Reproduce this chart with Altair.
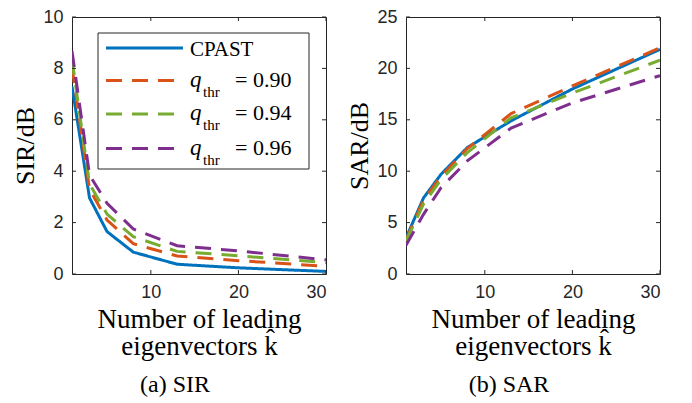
import altair as alt
import pandas as pd

k_vals = [1, 3, 5, 8, 13, 20, 30]
series_names = ["CPAST", "q90", "q94", "q96"]
legend_values = ["CPAST", "0.90", "0.94", "0.96"]
colors = ["#0072BD", "#D95319", "#77AC30", "#7E2F8E"]

sir_cpast = [7.3, 2.96, 1.65, 0.85, 0.38, 0.24, 0.1]
sir_q90 = [8.05, 3.3, 2.1, 1.18, 0.7, 0.52, 0.3]
sir_q94 = [8.35, 3.5, 2.33, 1.45, 0.88, 0.71, 0.44]
sir_q96 = [8.67, 3.85, 2.75, 1.75, 1.1, 0.9, 0.55]

sar_cpast = [3.5, 7.4, 9.7, 12.3, 14.9, 18.0, 21.85]
sar_q90 = [3.3, 7.2, 9.5, 12.2, 15.6, 18.3, 22.0]
sar_q94 = [3.2, 6.8, 9.2, 11.8, 15.2, 17.6, 20.8]
sar_q96 = [2.8, 5.8, 8.4, 11.0, 14.2, 16.65, 19.3]

sir_ticks = [0, 2, 4, 6, 8, 10]
sar_ticks = [0, 5, 10, 15, 20, 25]
x_ticks = [10, 20, 30]

W, H = 254, 257
AX = "#262626"
SERIF = "Liberation Serif"
SANS = "Liberation Sans"
TL = 4


def long_df(cols):
    rows = []
    for name, vals in zip(series_names, cols):
        for kk, v in zip(k_vals, vals):
            rows.append({"k": kk, "v": v, "series": name})
    return pd.DataFrame(rows)


def panel(cols, ymax, yticks, ytitle, caption, legend):
    df = long_df(cols)
    xs = alt.Scale(domain=[1, 30], nice=False, zero=False)
    ys = alt.Scale(domain=[0, ymax], nice=False, zero=False)
    xax = alt.Axis(values=x_ticks, title=["Number of leading", "eigenvectors k\u0302"],
                   ticks=False, domain=False, grid=False, labelPadding=9, titlePadding=5)
    yax = alt.Axis(values=yticks, title=ytitle, ticks=False, domain=False, grid=False,
                   labelPadding=9, titlePadding=4)
    lines = alt.Chart(df).mark_line(strokeWidth=3, strokeCap="butt", clip=True).encode(
        x=alt.X("k:Q", scale=xs, axis=xax),
        y=alt.Y("v:Q", scale=ys, axis=yax),
        color=alt.Color("series:N", scale=alt.Scale(domain=series_names, range=colors), legend=None),
        strokeDash=alt.StrokeDash("series:N", scale=alt.Scale(
            domain=series_names, range=[[1, 0], [16, 10], [16, 10], [16, 10]]), legend=None),
    )
    ytdf = pd.DataFrame({"t": yticks})
    xtdf = pd.DataFrame({"t": x_ticks})
    yl = alt.Chart(ytdf).mark_rule(color=AX, strokeWidth=1).encode(
        y=alt.Y("t:Q", scale=ys, axis=yax), x=alt.value(0), x2=alt.value(TL))
    yr = alt.Chart(ytdf).mark_rule(color=AX, strokeWidth=1).encode(
        y=alt.Y("t:Q", scale=ys, axis=yax), x=alt.value(W - TL), x2=alt.value(W))
    xb = alt.Chart(xtdf).mark_rule(color=AX, strokeWidth=1).encode(
        x=alt.X("t:Q", scale=xs, axis=xax), y=alt.value(H - TL), y2=alt.value(H))
    xt = alt.Chart(xtdf).mark_rule(color=AX, strokeWidth=1).encode(
        x=alt.X("t:Q", scale=xs, axis=xax), y=alt.value(0), y2=alt.value(TL))
    layers = [lines, yl, yr, xb, xt]
    if legend:
        one = pd.DataFrame({"a": [0]})
        box = alt.Chart(one).mark_rect(fill="white", stroke=AX, strokeWidth=1).encode(
            x=alt.value(26), x2=alt.value(237), y=alt.value(16), y2=alt.value(152))
        layers.append(box)
        ys_leg = [31, 63.5, 97, 131.5]
        for i, (name, lab) in enumerate(zip(series_names, legend_values)):
            d = [1, 0] if i == 0 else [16, 10]
            ly = ys_leg[i]
            layers.append(alt.Chart(one).mark_rule(
                color=colors[i], strokeWidth=3, strokeDash=d, strokeCap="butt").encode(
                x=alt.value(34), x2=alt.value(111), y=alt.value(ly)))
            if i == 0:
                layers.append(alt.Chart(pd.DataFrame({"s": [lab]})).mark_text(
                    align="left", baseline="alphabetic", font=SERIF, fontSize=21,
                    color="black").encode(text="s:N", x=alt.value(118), y=alt.value(ly + 8)))
            else:
                layers.append(alt.Chart(pd.DataFrame({"s": ["q"]})).mark_text(
                    align="left", baseline="alphabetic", font=SERIF, fontSize=23,
                    fontStyle="italic", color="black").encode(
                    text="s:N", x=alt.value(118), y=alt.value(ly + 6)))
                layers.append(alt.Chart(pd.DataFrame({"s": ["thr"]})).mark_text(
                    align="left", baseline="alphabetic", font=SERIF, fontSize=15,
                    color="black").encode(text="s:N", x=alt.value(131), y=alt.value(ly + 16)))
                layers.append(alt.Chart(pd.DataFrame({"s": ["= " + lab]})).mark_text(
                    align="left", baseline="alphabetic", font=SERIF, fontSize=22,
                    color="black").encode(text="s:N", x=alt.value(163), y=alt.value(ly + 6)))
    return alt.layer(*layers).properties(
        width=W, height=H,
        title=alt.TitleParams(text=caption, orient="bottom", font=SERIF, fontSize=24,
                              fontWeight="normal", color="black", offset=14,
                              anchor="middle", dx=-24))


left = panel([sir_cpast, sir_q90, sir_q94, sir_q96], 10, sir_ticks, "SIR/dB", "(a) SIR", True)
right = panel([sar_cpast, sar_q90, sar_q94, sar_q96], 25, sar_ticks, "SAR/dB", "(b) SAR", False)

chart = alt.hconcat(left, right, spacing=19).properties(
    padding={"left": 4, "top": -1, "right": 0, "bottom": 0}
).configure_view(stroke=AX, strokeWidth=1).configure_axis(
    labelFont=SANS, labelFontSize=18, labelColor=AX,
    titleFont=SERIF, titleFontSize=26, titleFontWeight="normal", titleColor="black",
).configure_axisX(titleFontSize=27, titleLineHeight=27)

chart.save("out.html", embed_options={"renderer": "svg", "actions": False})
